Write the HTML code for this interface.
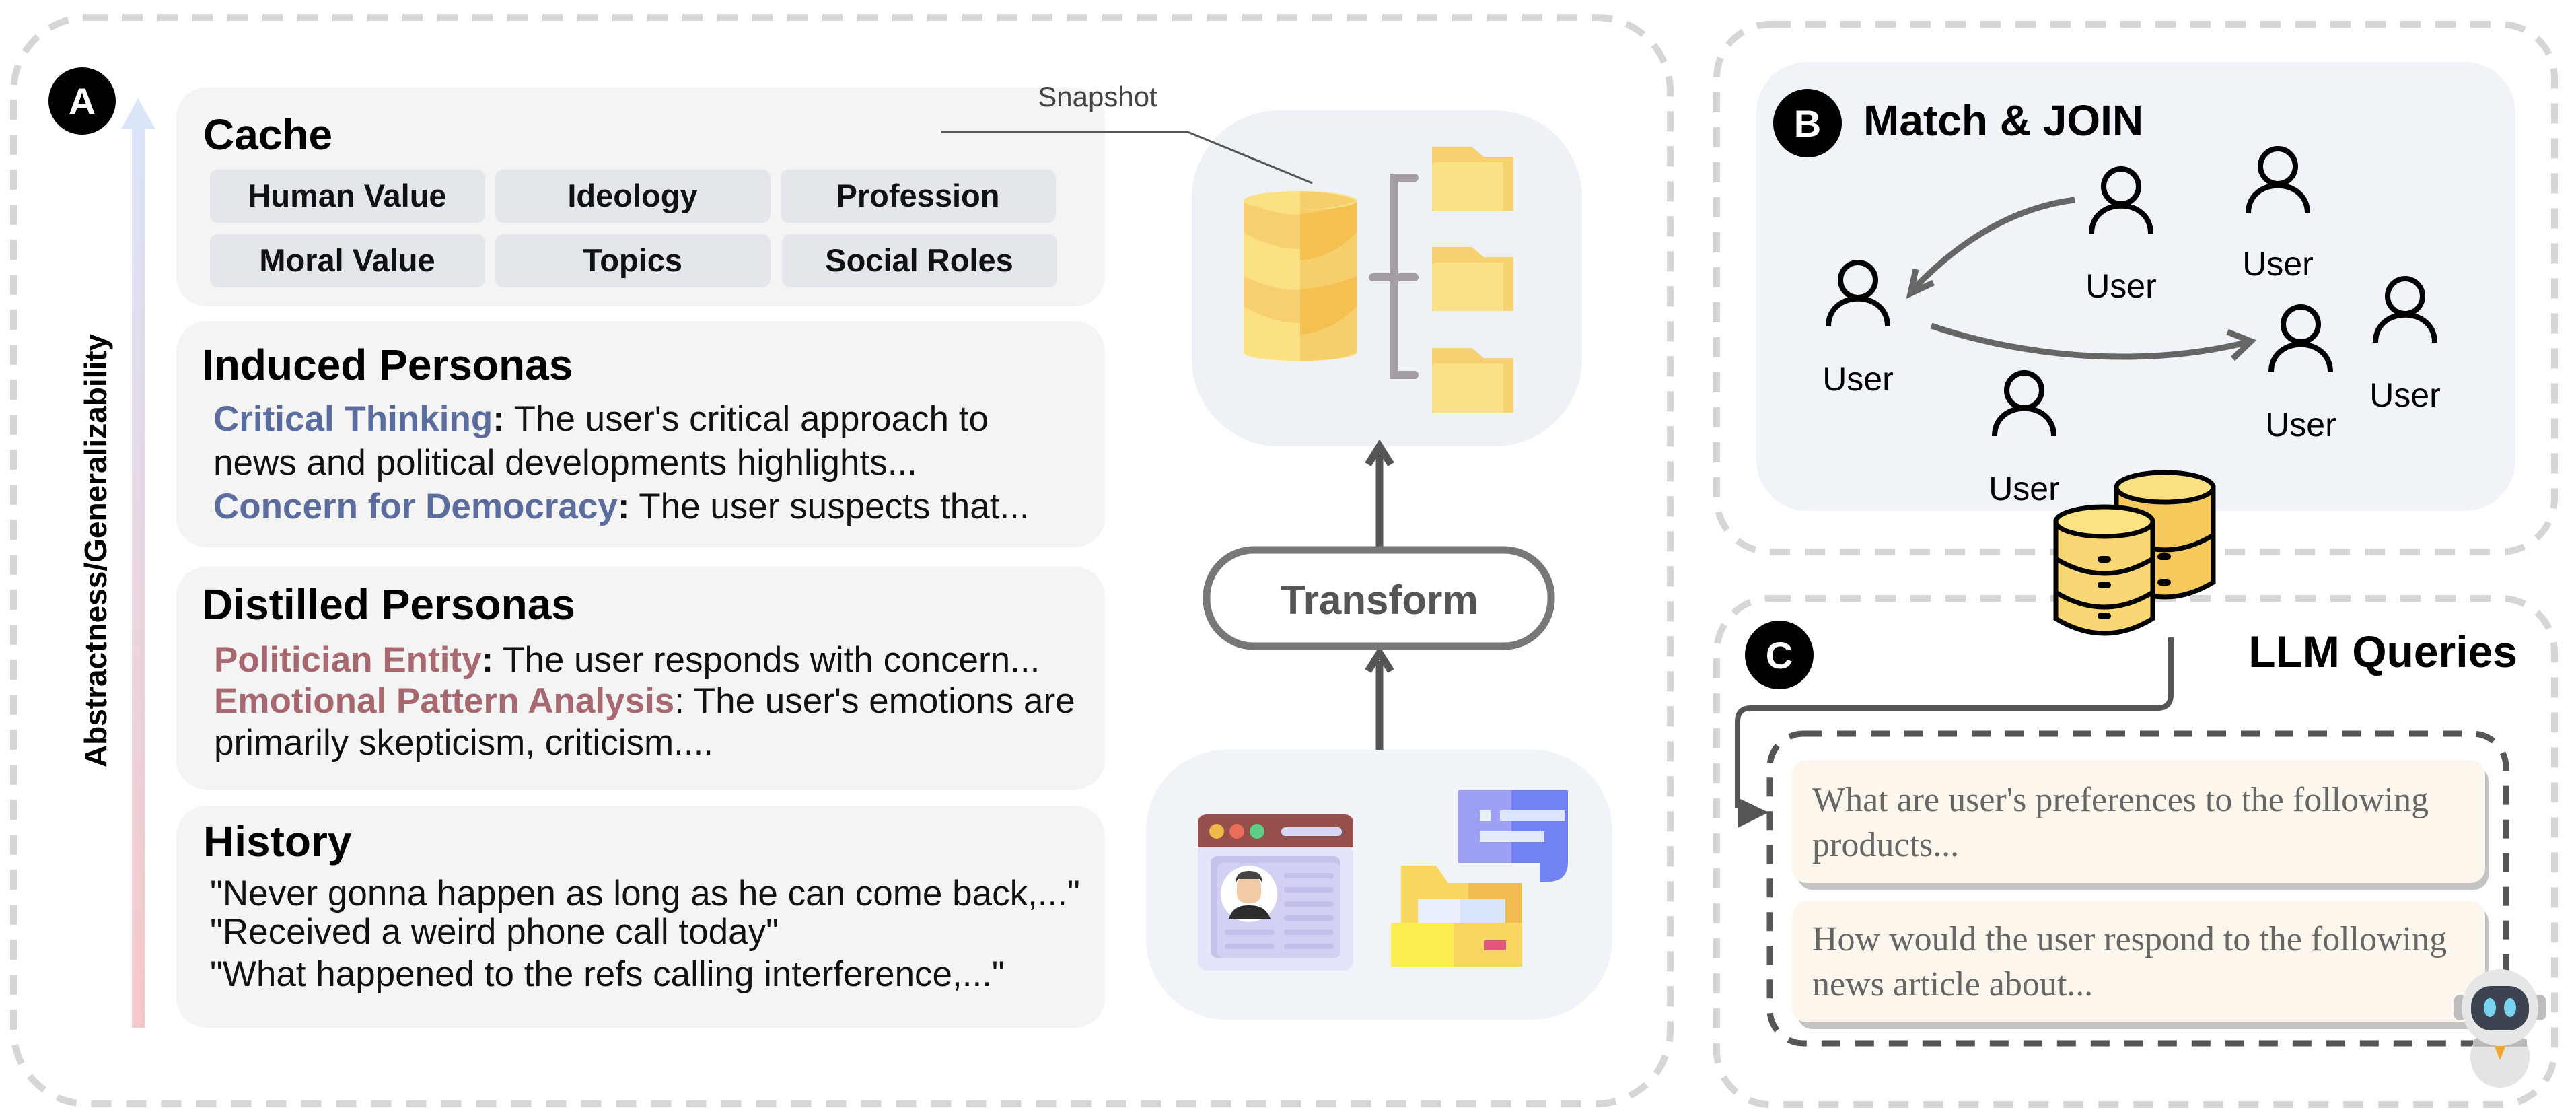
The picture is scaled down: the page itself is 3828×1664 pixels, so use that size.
<!DOCTYPE html>
<html><head><meta charset="utf-8"><style>
html,body{margin:0;padding:0;background:#fff;}
svg{display:block;}
</style></head><body>
<svg width="3828" height="1664" viewBox="0 0 3828 1664" xmlns="http://www.w3.org/2000/svg">
<defs>
<linearGradient id="ag" x1="0" y1="1" x2="0" y2="0">
<stop offset="0" stop-color="#f6c9cb"/><stop offset="1" stop-color="#dbe5f8"/>
</linearGradient>
</defs>
<rect x="20" y="26" width="2462" height="1614" rx="110" fill="none" stroke="#d6d6d6" stroke-width="10" stroke-dasharray="30 22"/>
<rect x="2551" y="36" width="1245" height="784" rx="80" fill="none" stroke="#d6d6d6" stroke-width="10" stroke-dasharray="30 22"/>
<rect x="2551" y="889" width="1245" height="752" rx="80" fill="none" stroke="#d6d6d6" stroke-width="10" stroke-dasharray="30 22"/>

<rect x="196" y="186" width="19" height="1341" fill="url(#ag)"/>
<polygon points="205,146 180,192 231,192" fill="#dbe5f8"/>
<circle cx="122" cy="150" r="50" fill="#000"/>
<text x="122" y="170" font-family="Liberation Sans, sans-serif" font-weight="bold" font-size="56" fill="#fff" text-anchor="middle">A</text>
<text transform="translate(158,818) rotate(-90)" font-family="Liberation Sans, sans-serif" font-weight="bold" font-size="46" fill="#000" text-anchor="middle">Abstractness/Generalizability</text>

<rect x="262" y="130" width="1380" height="325" rx="45" fill="#f4f4f4"/>
<rect x="262" y="477" width="1380" height="336" rx="45" fill="#f4f4f4"/>
<rect x="262" y="842" width="1380" height="331" rx="45" fill="#f4f4f4"/>
<rect x="262" y="1197" width="1380" height="330" rx="45" fill="#f4f4f4"/>

<g font-family="Liberation Sans, sans-serif" font-weight="bold" font-size="64" fill="#000">
<text x="302" y="222">Cache</text>
<text x="300" y="564">Induced Personas</text>
<text x="300" y="920">Distilled Personas</text>
<text x="302" y="1272">History</text>
</g>
<g fill="#e3e6eb">
<rect x="312" y="252" width="409" height="79" rx="12"/>
<rect x="736" y="252" width="409" height="79" rx="12"/>
<rect x="1160" y="252" width="409" height="79" rx="12"/>
<rect x="312" y="348" width="409" height="79" rx="12"/>
<rect x="736" y="348" width="409" height="79" rx="12"/>
<rect x="1162" y="348" width="409" height="79" rx="12"/>
</g>
<g font-family="Liberation Sans, sans-serif" font-weight="bold" font-size="47" fill="#111" text-anchor="middle">
<text x="516" y="307">Human Value</text>
<text x="940" y="307">Ideology</text>
<text x="1364" y="307">Profession</text>
<text x="516" y="403">Moral Value</text>
<text x="940" y="403">Topics</text>
<text x="1366" y="403">Social Roles</text>
</g>
<g font-family="Liberation Sans, sans-serif" font-size="53" fill="#111">
<text x="317" y="640"><tspan fill="#5b6c9f" font-weight="bold">Critical Thinking</tspan><tspan font-weight="bold">:</tspan> The user's critical approach to</text>
<text x="317" y="705">news and political developments highlights...</text>
<text x="317" y="770"><tspan fill="#5b6c9f" font-weight="bold">Concern for Democracy</tspan><tspan font-weight="bold">:</tspan> The user suspects that...</text>
<text x="318" y="998"><tspan fill="#a8686f" font-weight="bold">Politician Entity</tspan><tspan font-weight="bold">:</tspan> The user responds with concern...</text>
<text x="318" y="1059"><tspan fill="#a8686f" font-weight="bold">Emotional Pattern Analysis</tspan>: The user's emotions are</text>
<text x="318" y="1121">primarily skepticism, criticism....</text>
<text x="312" y="1345">"Never gonna happen as long as he can come back,..."</text>
<text x="312" y="1402">"Received a weird phone call today"</text>
<text x="312" y="1465">"What happened to the refs calling interference,..."</text>
</g>

<rect x="1771" y="164" width="580" height="499" rx="130" fill="#eef1f6"/>
<text x="1631" y="158" font-family="Liberation Sans, sans-serif" font-size="42" fill="#444" text-anchor="middle">Snapshot</text>
<polyline points="1398,196 1765,196 1950,272" fill="none" stroke="#555" stroke-width="3"/>
<g>
<rect x="1848" y="298" width="168" height="226" fill="#fbe084"/>
<rect x="1932" y="298" width="84" height="226" fill="#f6cf6c"/>
<path d="M1848,298 Q1932,340 2016,298 L2016,345 Q1932,395 1848,345Z" fill="#f7cf70"/>
<path d="M1932,318 Q1980,314 2016,298 L2016,345 Q1980,383 1932,387Z" fill="#f4c150"/>
<path d="M1848,410 Q1932,452 2016,410 L2016,455 Q1932,505 1848,455Z" fill="#f7cf70"/>
<path d="M1932,430 Q1980,426 2016,410 L2016,455 Q1980,493 1932,497Z" fill="#f4c150"/>
<ellipse cx="1932" cy="298" rx="84" ry="14" fill="#fbe084"/>
<path d="M1932,284 Q1990,286 2016,298 Q1990,310 1932,312Z" fill="#f6cf6c"/>
<ellipse cx="1932" cy="524" rx="84" ry="12" fill="#fbe084"/>
<path d="M1932,512 L2016,512 L2016,524 Q1990,536 1932,536Z" fill="#f6cf6c"/>
</g>
<path d="M2102,264 L2072,264 L2072,557 L2102,557 M2040,412 L2102,412" fill="none" stroke="#a59da6" stroke-width="12" stroke-linecap="round"/>
<g>
<path d="M2128,218 L2187,218 L2205,233 L2249,233 L2249,313 L2128,313Z" fill="#f7d06f"/>
<rect x="2128" y="241" width="121" height="72" rx="5" fill="#fbe185"/>
<rect x="2234" y="241" width="15" height="72" fill="#f7d06f"/>
<path d="M2128,367 L2187,367 L2205,382 L2249,382 L2249,462 L2128,462Z" fill="#f7d06f"/>
<rect x="2128" y="390" width="121" height="72" rx="5" fill="#fbe185"/>
<rect x="2234" y="390" width="15" height="72" fill="#f7d06f"/>
<path d="M2128,517 L2187,517 L2205,532 L2249,532 L2249,613 L2128,613Z" fill="#f7d06f"/>
<rect x="2128" y="540" width="121" height="73" rx="5" fill="#fbe185"/>
<rect x="2234" y="540" width="15" height="73" fill="#f7d06f"/>
</g>
<line x1="2050" y1="817" x2="2050" y2="675" stroke="#555" stroke-width="11"/>
<polyline points="2033,690 2050,663 2067,690" fill="none" stroke="#555" stroke-width="11"/>
<line x1="2050" y1="1114" x2="2050" y2="982" stroke="#555" stroke-width="11"/>
<polyline points="2033,997 2050,970 2067,997" fill="none" stroke="#555" stroke-width="11"/>
<rect x="1793" y="817" width="512" height="143" rx="70" fill="#fff" stroke="#777" stroke-width="11"/>
<text x="2050" y="912" font-family="Liberation Sans, sans-serif" font-weight="bold" font-size="60" fill="#555" text-anchor="middle">Transform</text>
<rect x="1703" y="1114" width="693" height="401" rx="120" fill="#f0f3f8"/>
<rect x="1780" y="1210" width="231" height="232" rx="14" fill="#e3e3fa"/>
<path d="M1794,1210 L1997,1210 Q2011,1210 2011,1224 L2011,1259 L1780,1259 L1780,1224 Q1780,1210 1794,1210Z" fill="#954f4c"/>
<circle cx="1808" cy="1235" r="11" fill="#efb84a"/>
<circle cx="1838" cy="1235" r="11" fill="#ea6c5a"/>
<circle cx="1868" cy="1235" r="11" fill="#5fce87"/>
<rect x="1904" y="1229" width="90" height="13" rx="6" fill="#d6d6f7"/>
<rect x="1799" y="1272" width="193" height="151" rx="10" fill="#c4c3ec"/>
<rect x="1809" y="1282" width="183" height="141" rx="8" fill="#d2d1f4"/>
<ellipse cx="1856" cy="1328" rx="42" ry="42" fill="#fff"/>
<rect x="1838" y="1302" width="36" height="40" rx="14" fill="#f1cba8"/>
<path d="M1836,1312 Q1836,1294 1856,1294 Q1876,1294 1876,1312 L1872,1306 L1840,1306Z" fill="#444"/>
<path d="M1826,1365 Q1832,1344 1856,1345 Q1880,1344 1888,1365Z" fill="#2d2d2d"/>
<rect x="1908" y="1297" width="74" height="8" rx="4" fill="#c1c0ea"/>
<rect x="1908" y="1318" width="74" height="8" rx="4" fill="#c1c0ea"/>
<rect x="1908" y="1339" width="74" height="8" rx="4" fill="#c1c0ea"/>
<rect x="1908" y="1360" width="74" height="8" rx="4" fill="#c1c0ea"/>
<rect x="1820" y="1381" width="74" height="8" rx="4" fill="#c1c0ea"/>
<rect x="1908" y="1381" width="74" height="8" rx="4" fill="#c1c0ea"/>
<rect x="1820" y="1402" width="74" height="8" rx="4" fill="#c1c0ea"/>
<rect x="1908" y="1402" width="74" height="8" rx="4" fill="#c1c0ea"/>
<rect x="2167" y="1174" width="163" height="108" fill="#9ea0f5"/>
<path d="M2246,1174 L2330,1174 L2330,1280 Q2330,1310 2300,1310 L2288,1310 L2288,1282 L2246,1282Z" fill="#7382f2"/>
<rect x="2199" y="1204" width="16" height="16" fill="#e8eefb"/>
<rect x="2229" y="1204" width="96" height="16" fill="#dbe5fb"/>
<rect x="2199" y="1235" width="96" height="16" fill="#e2eafb"/>
<path d="M2082,1286 L2134,1286 L2152,1312 L2262,1312 L2262,1371 L2082,1371Z" fill="#f7d762"/>
<rect x="2182" y="1312" width="80" height="59" fill="#f0bb4f"/>
<rect x="2107" y="1336" width="130" height="35" fill="#e9effc"/>
<rect x="2170" y="1336" width="67" height="35" fill="#d7e4fa"/>
<rect x="2067" y="1371" width="93" height="65" fill="#fced51"/>
<rect x="2160" y="1371" width="102" height="65" fill="#f7d762"/>
<rect x="2206" y="1397" width="32" height="15" fill="#e3577f"/>

<rect x="2610" y="92" width="1128" height="667" rx="75" fill="#f0f4f9"/>
<circle cx="2686" cy="183" r="51" fill="#000"/>
<text x="2686" y="203" font-family="Liberation Sans, sans-serif" font-weight="bold" font-size="56" fill="#fff" text-anchor="middle">B</text>
<text x="2769" y="201" font-family="Liberation Sans, sans-serif" font-weight="bold" font-size="64" fill="#000">Match &amp; JOIN</text>
<g fill="none" stroke="#000" stroke-width="8">
<circle cx="2761" cy="416" r="26"/><path d="M2717,485 C2717,430 2805,430 2805,485"/>
<circle cx="3152" cy="277" r="26"/><path d="M3108,347 C3108,292 3196,292 3196,347"/>
<circle cx="3385" cy="247" r="26"/><path d="M3341,317 C3341,262 3429,262 3429,317"/>
<circle cx="3419" cy="482" r="26"/><path d="M3375,553 C3375,498 3463,498 3463,553"/>
<circle cx="3574" cy="440" r="26"/><path d="M3530,509 C3530,454 3618,454 3618,509"/>
<circle cx="3008" cy="580" r="26"/><path d="M2964,648 C2964,593 3052,593 3052,648"/>
</g>
<g font-family="Liberation Sans, sans-serif" font-size="50" fill="#000" text-anchor="middle">
<text x="2761" y="580">User</text>
<text x="3152" y="442">User</text>
<text x="3385" y="409">User</text>
<text x="3419" y="648">User</text>
<text x="3574" y="604">User</text>
<text x="3008" y="743">User</text>
</g>
<g fill="none" stroke="#666" stroke-width="9">
<path d="M3083,297 C2980,310 2900,370 2843,430"/>
<polyline points="2847,400 2839,436 2873,420"/>
<path d="M2870,484 C3020,535 3200,545 3345,507"/>
<polyline points="3310,493 3345,507 3318,533"/>
</g>
<g stroke="#000" stroke-width="7">
<path d="M3145,724 L3145,865 Q3217,909 3289,865 L3289,724Z" fill="#f6c95c"/>
<path d="M3145,795 Q3217,839 3289,795" fill="none"/>
<ellipse cx="3217" cy="724" rx="72" ry="22" fill="#fbe083"/>
<path d="M3055,775 L3055,919 Q3127,963 3199,919 L3199,775Z" fill="#f9d775"/>
<path d="M3055,830 Q3127,874 3199,830 M3055,880 Q3127,924 3199,880" fill="none"/>
<ellipse cx="3127" cy="775" rx="72" ry="22" fill="#fbe283"/>
</g>
<g fill="#000">
<rect x="3206" y="822" width="20" height="10" rx="5"/>
<rect x="3206" y="860" width="20" height="10" rx="5"/>
<rect x="3117" y="826" width="20" height="10" rx="5"/>
<rect x="3117" y="864" width="20" height="10" rx="5"/>
<rect x="3117" y="910" width="20" height="10" rx="5"/>
</g>

<circle cx="2644" cy="973" r="51" fill="#000"/>
<text x="2644" y="993" font-family="Liberation Sans, sans-serif" font-weight="bold" font-size="56" fill="#fff" text-anchor="middle">C</text>
<text x="3741" y="991" font-family="Liberation Sans, sans-serif" font-weight="bold" font-size="66" fill="#000" text-anchor="end">LLM Queries</text>
<path d="M3226,947 L3226,1032 Q3226,1052 3206,1052 L2602,1052 Q2582,1052 2582,1072 L2582,1200" fill="none" stroke="#555" stroke-width="8"/>
<polygon points="2582,1185 2628,1207 2582,1230" fill="#555"/>
<rect x="2630" y="1090" width="1094" height="460" rx="50" fill="none" stroke="#555" stroke-width="9" stroke-dasharray="28 22"/>
<rect x="2671" y="1138" width="1027" height="184" rx="22" fill="#c4c4c4"/>
<rect x="2663" y="1129" width="1030" height="183" rx="22" fill="#fdf6ed"/>
<rect x="2671" y="1347" width="1027" height="182" rx="22" fill="#c4c4c4"/>
<rect x="2663" y="1339" width="1030" height="180" rx="22" fill="#fdf6ed"/>
<g font-family="Liberation Serif, serif" font-size="52" fill="#666">
<text x="2693" y="1205">What are user's preferences to the following</text>
<text x="2693" y="1272">products...</text>
<text x="2693" y="1412">How would the user respond to the following</text>
<text x="2693" y="1479">news article about...</text>
</g>
<ellipse cx="3715" cy="1570" rx="44" ry="46" fill="#e4e4e4"/>
<path d="M3675,1545 Q3715,1525 3755,1545 L3755,1555 L3675,1555Z" fill="#bbb"/>
<polygon points="3705,1550 3725,1550 3715,1575" fill="#f0a530"/>
<rect x="3646" y="1478" width="138" height="38" rx="10" fill="#bdbdbd"/>
<circle cx="3715" cy="1497" r="57" fill="#e6e6e6"/>
<rect x="3672" y="1465" width="86" height="66" rx="30" fill="#3d4350"/>
<ellipse cx="3700" cy="1497" rx="9" ry="14" fill="#78d2f0"/>
<ellipse cx="3730" cy="1497" rx="9" ry="14" fill="#78d2f0"/>
</svg>
</body></html>
